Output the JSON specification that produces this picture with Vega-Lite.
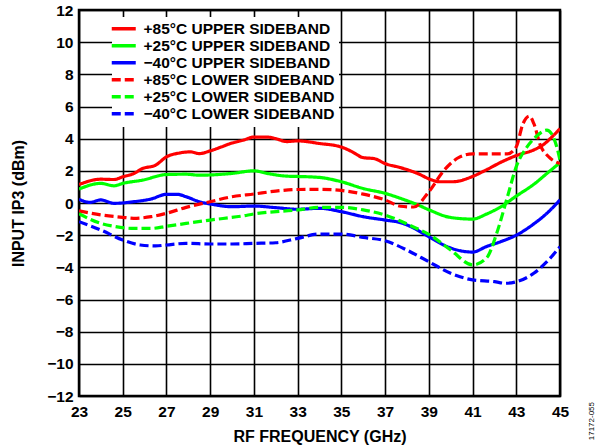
{
  "$schema": "https://vega.github.io/schema/vega-lite/v6.json",
  "width": 481,
  "height": 386,
  "autosize": "none",
  "padding": {"left": 79, "top": 10, "right": 39, "bottom": 52},
  "background": "white",
  "config": {
    "font": "Liberation Sans",
    "view": {"stroke": "black", "strokeWidth": 2.5},
    "axis": {
      "grid": true, "gridColor": "black", "gridWidth": 1.6, "gridOpacity": 1,
      "domain": false, "ticks": false,
      "labelFont": "Liberation Sans", "labelFontWeight": "bold", "labelFontSize": 15.5, "labelColor": "black",
      "titleFont": "Liberation Sans", "titleFontWeight": "bold", "titleFontSize": 16, "titleColor": "black"
    }
  },
  "title": {
    "text": "17172-055",
    "orient": "right",
    "anchor": "end",
    "frame": "group",
    "angle": -90,
    "fontSize": 8,
    "fontWeight": "normal",
    "font": "Liberation Sans",
    "color": "black",
    "offset": 11,
    "dx": -6
  },
  "data": {
    "values": [
      {"s": "+85°C UPPER SIDEBAND", "f": 23, "v": 1.15},
      {"s": "+85°C UPPER SIDEBAND", "f": 24, "v": 1.48},
      {"s": "+85°C UPPER SIDEBAND", "f": 24.6, "v": 1.46},
      {"s": "+85°C UPPER SIDEBAND", "f": 25, "v": 1.63},
      {"s": "+85°C UPPER SIDEBAND", "f": 25.5, "v": 1.83},
      {"s": "+85°C UPPER SIDEBAND", "f": 25.9, "v": 2.14},
      {"s": "+85°C UPPER SIDEBAND", "f": 26.5, "v": 2.35},
      {"s": "+85°C UPPER SIDEBAND", "f": 27, "v": 2.87},
      {"s": "+85°C UPPER SIDEBAND", "f": 27.6, "v": 3.11},
      {"s": "+85°C UPPER SIDEBAND", "f": 28.1, "v": 3.18},
      {"s": "+85°C UPPER SIDEBAND", "f": 28.5, "v": 3.07},
      {"s": "+85°C UPPER SIDEBAND", "f": 29, "v": 3.24},
      {"s": "+85°C UPPER SIDEBAND", "f": 29.5, "v": 3.48},
      {"s": "+85°C UPPER SIDEBAND", "f": 30, "v": 3.73},
      {"s": "+85°C UPPER SIDEBAND", "f": 30.5, "v": 3.9},
      {"s": "+85°C UPPER SIDEBAND", "f": 31, "v": 4.1},
      {"s": "+85°C UPPER SIDEBAND", "f": 31.6, "v": 4.1},
      {"s": "+85°C UPPER SIDEBAND", "f": 32, "v": 4.0},
      {"s": "+85°C UPPER SIDEBAND", "f": 32.5, "v": 3.82},
      {"s": "+85°C UPPER SIDEBAND", "f": 33, "v": 3.86},
      {"s": "+85°C UPPER SIDEBAND", "f": 34, "v": 3.7},
      {"s": "+85°C UPPER SIDEBAND", "f": 35, "v": 3.48},
      {"s": "+85°C UPPER SIDEBAND", "f": 35.5, "v": 3.18},
      {"s": "+85°C UPPER SIDEBAND", "f": 36, "v": 2.82},
      {"s": "+85°C UPPER SIDEBAND", "f": 36.5, "v": 2.76},
      {"s": "+85°C UPPER SIDEBAND", "f": 37, "v": 2.45},
      {"s": "+85°C UPPER SIDEBAND", "f": 37.7, "v": 2.2},
      {"s": "+85°C UPPER SIDEBAND", "f": 38.5, "v": 1.83},
      {"s": "+85°C UPPER SIDEBAND", "f": 39.1, "v": 1.45},
      {"s": "+85°C UPPER SIDEBAND", "f": 39.5, "v": 1.32},
      {"s": "+85°C UPPER SIDEBAND", "f": 40.1, "v": 1.32},
      {"s": "+85°C UPPER SIDEBAND", "f": 41, "v": 1.65},
      {"s": "+85°C UPPER SIDEBAND", "f": 41.6, "v": 2.04},
      {"s": "+85°C UPPER SIDEBAND", "f": 42.4, "v": 2.6},
      {"s": "+85°C UPPER SIDEBAND", "f": 43, "v": 2.95},
      {"s": "+85°C UPPER SIDEBAND", "f": 43.8, "v": 3.3},
      {"s": "+85°C UPPER SIDEBAND", "f": 44.2, "v": 3.59},
      {"s": "+85°C UPPER SIDEBAND", "f": 44.7, "v": 4.2},
      {"s": "+85°C UPPER SIDEBAND", "f": 45, "v": 4.62},

      {"s": "+25°C UPPER SIDEBAND", "f": 23, "v": 0.87},
      {"s": "+25°C UPPER SIDEBAND", "f": 24, "v": 1.22},
      {"s": "+25°C UPPER SIDEBAND", "f": 24.6, "v": 1.07},
      {"s": "+25°C UPPER SIDEBAND", "f": 25, "v": 1.22},
      {"s": "+25°C UPPER SIDEBAND", "f": 25.9, "v": 1.42},
      {"s": "+25°C UPPER SIDEBAND", "f": 27, "v": 1.77},
      {"s": "+25°C UPPER SIDEBAND", "f": 27.9, "v": 1.79},
      {"s": "+25°C UPPER SIDEBAND", "f": 28.5, "v": 1.73},
      {"s": "+25°C UPPER SIDEBAND", "f": 30, "v": 1.84},
      {"s": "+25°C UPPER SIDEBAND", "f": 31, "v": 2.0},
      {"s": "+25°C UPPER SIDEBAND", "f": 31.6, "v": 1.84},
      {"s": "+25°C UPPER SIDEBAND", "f": 32.5, "v": 1.67},
      {"s": "+25°C UPPER SIDEBAND", "f": 33, "v": 1.65},
      {"s": "+25°C UPPER SIDEBAND", "f": 34, "v": 1.59},
      {"s": "+25°C UPPER SIDEBAND", "f": 35, "v": 1.32},
      {"s": "+25°C UPPER SIDEBAND", "f": 36, "v": 0.9},
      {"s": "+25°C UPPER SIDEBAND", "f": 37, "v": 0.6},
      {"s": "+25°C UPPER SIDEBAND", "f": 37.7, "v": 0.29},
      {"s": "+25°C UPPER SIDEBAND", "f": 38.5, "v": -0.12},
      {"s": "+25°C UPPER SIDEBAND", "f": 39, "v": -0.42},
      {"s": "+25°C UPPER SIDEBAND", "f": 40, "v": -0.9},
      {"s": "+25°C UPPER SIDEBAND", "f": 41, "v": -1.0},
      {"s": "+25°C UPPER SIDEBAND", "f": 41.65, "v": -0.68},
      {"s": "+25°C UPPER SIDEBAND", "f": 42.3, "v": -0.23},
      {"s": "+25°C UPPER SIDEBAND", "f": 43, "v": 0.43},
      {"s": "+25°C UPPER SIDEBAND", "f": 43.8, "v": 1.16},
      {"s": "+25°C UPPER SIDEBAND", "f": 44.5, "v": 1.95},
      {"s": "+25°C UPPER SIDEBAND", "f": 45, "v": 2.5},

      {"s": "−40°C UPPER SIDEBAND", "f": 23, "v": 0.23},
      {"s": "−40°C UPPER SIDEBAND", "f": 23.5, "v": 0.04},
      {"s": "−40°C UPPER SIDEBAND", "f": 24, "v": 0.19},
      {"s": "−40°C UPPER SIDEBAND", "f": 24.6, "v": -0.02},
      {"s": "−40°C UPPER SIDEBAND", "f": 25.5, "v": 0.08},
      {"s": "−40°C UPPER SIDEBAND", "f": 26.3, "v": 0.25},
      {"s": "−40°C UPPER SIDEBAND", "f": 27, "v": 0.54},
      {"s": "−40°C UPPER SIDEBAND", "f": 27.5, "v": 0.54},
      {"s": "−40°C UPPER SIDEBAND", "f": 27.9, "v": 0.39},
      {"s": "−40°C UPPER SIDEBAND", "f": 28.5, "v": 0.08},
      {"s": "−40°C UPPER SIDEBAND", "f": 29, "v": -0.06},
      {"s": "−40°C UPPER SIDEBAND", "f": 30, "v": -0.23},
      {"s": "−40°C UPPER SIDEBAND", "f": 31, "v": -0.19},
      {"s": "−40°C UPPER SIDEBAND", "f": 32, "v": -0.29},
      {"s": "−40°C UPPER SIDEBAND", "f": 33, "v": -0.39},
      {"s": "−40°C UPPER SIDEBAND", "f": 34, "v": -0.33},
      {"s": "−40°C UPPER SIDEBAND", "f": 35, "v": -0.54},
      {"s": "−40°C UPPER SIDEBAND", "f": 36, "v": -0.85},
      {"s": "−40°C UPPER SIDEBAND", "f": 37, "v": -1.06},
      {"s": "−40°C UPPER SIDEBAND", "f": 37.7, "v": -1.22},
      {"s": "−40°C UPPER SIDEBAND", "f": 38.3, "v": -1.55},
      {"s": "−40°C UPPER SIDEBAND", "f": 39, "v": -2.1},
      {"s": "−40°C UPPER SIDEBAND", "f": 40, "v": -2.8},
      {"s": "−40°C UPPER SIDEBAND", "f": 41, "v": -3.05},
      {"s": "−40°C UPPER SIDEBAND", "f": 41.65, "v": -2.7},
      {"s": "−40°C UPPER SIDEBAND", "f": 42.3, "v": -2.4},
      {"s": "−40°C UPPER SIDEBAND", "f": 43, "v": -2.0},
      {"s": "−40°C UPPER SIDEBAND", "f": 43.8, "v": -1.3},
      {"s": "−40°C UPPER SIDEBAND", "f": 44.4, "v": -0.64},
      {"s": "−40°C UPPER SIDEBAND", "f": 45, "v": 0.19},

      {"s": "+85°C LOWER SIDEBAND", "f": 23, "v": -0.49},
      {"s": "+85°C LOWER SIDEBAND", "f": 24, "v": -0.74},
      {"s": "+85°C LOWER SIDEBAND", "f": 25, "v": -0.89},
      {"s": "+85°C LOWER SIDEBAND", "f": 25.5, "v": -0.95},
      {"s": "+85°C LOWER SIDEBAND", "f": 26.3, "v": -0.85},
      {"s": "+85°C LOWER SIDEBAND", "f": 27, "v": -0.64},
      {"s": "+85°C LOWER SIDEBAND", "f": 27.9, "v": -0.27},
      {"s": "+85°C LOWER SIDEBAND", "f": 29, "v": 0.08},
      {"s": "+85°C LOWER SIDEBAND", "f": 30, "v": 0.39},
      {"s": "+85°C LOWER SIDEBAND", "f": 31, "v": 0.56},
      {"s": "+85°C LOWER SIDEBAND", "f": 32, "v": 0.74},
      {"s": "+85°C LOWER SIDEBAND", "f": 33, "v": 0.84},
      {"s": "+85°C LOWER SIDEBAND", "f": 34, "v": 0.85},
      {"s": "+85°C LOWER SIDEBAND", "f": 35, "v": 0.78},
      {"s": "+85°C LOWER SIDEBAND", "f": 36, "v": 0.55},
      {"s": "+85°C LOWER SIDEBAND", "f": 37, "v": 0.19},
      {"s": "+85°C LOWER SIDEBAND", "f": 37.7, "v": -0.2},
      {"s": "+85°C LOWER SIDEBAND", "f": 38.3, "v": -0.25},
      {"s": "+85°C LOWER SIDEBAND", "f": 39, "v": 0.7},
      {"s": "+85°C LOWER SIDEBAND", "f": 39.7, "v": 2.04},
      {"s": "+85°C LOWER SIDEBAND", "f": 40.4, "v": 2.85},
      {"s": "+85°C LOWER SIDEBAND", "f": 41, "v": 3.05},
      {"s": "+85°C LOWER SIDEBAND", "f": 41.6, "v": 3.05},
      {"s": "+85°C LOWER SIDEBAND", "f": 42.6, "v": 3.05},
      {"s": "+85°C LOWER SIDEBAND", "f": 43, "v": 3.5},
      {"s": "+85°C LOWER SIDEBAND", "f": 43.3, "v": 4.9},
      {"s": "+85°C LOWER SIDEBAND", "f": 43.6, "v": 5.4},
      {"s": "+85°C LOWER SIDEBAND", "f": 43.8, "v": 4.95},
      {"s": "+85°C LOWER SIDEBAND", "f": 44.1, "v": 3.6},
      {"s": "+85°C LOWER SIDEBAND", "f": 44.5, "v": 2.85},
      {"s": "+85°C LOWER SIDEBAND", "f": 45, "v": 2.45},

      {"s": "+25°C LOWER SIDEBAND", "f": 23, "v": -0.67},
      {"s": "+25°C LOWER SIDEBAND", "f": 24, "v": -1.27},
      {"s": "+25°C LOWER SIDEBAND", "f": 24.6, "v": -1.45},
      {"s": "+25°C LOWER SIDEBAND", "f": 25.5, "v": -1.58},
      {"s": "+25°C LOWER SIDEBAND", "f": 26.3, "v": -1.58},
      {"s": "+25°C LOWER SIDEBAND", "f": 27, "v": -1.45},
      {"s": "+25°C LOWER SIDEBAND", "f": 27.9, "v": -1.27},
      {"s": "+25°C LOWER SIDEBAND", "f": 29, "v": -1.06},
      {"s": "+25°C LOWER SIDEBAND", "f": 30.5, "v": -0.8},
      {"s": "+25°C LOWER SIDEBAND", "f": 31, "v": -0.68},
      {"s": "+25°C LOWER SIDEBAND", "f": 33, "v": -0.43},
      {"s": "+25°C LOWER SIDEBAND", "f": 34, "v": -0.27},
      {"s": "+25°C LOWER SIDEBAND", "f": 35, "v": -0.27},
      {"s": "+25°C LOWER SIDEBAND", "f": 36, "v": -0.43},
      {"s": "+25°C LOWER SIDEBAND", "f": 37, "v": -0.75},
      {"s": "+25°C LOWER SIDEBAND", "f": 37.7, "v": -1.12},
      {"s": "+25°C LOWER SIDEBAND", "f": 38.2, "v": -1.43},
      {"s": "+25°C LOWER SIDEBAND", "f": 39, "v": -1.95},
      {"s": "+25°C LOWER SIDEBAND", "f": 40, "v": -2.92},
      {"s": "+25°C LOWER SIDEBAND", "f": 41, "v": -3.85},
      {"s": "+25°C LOWER SIDEBAND", "f": 41.65, "v": -3.4},
      {"s": "+25°C LOWER SIDEBAND", "f": 42.1, "v": -1.9},
      {"s": "+25°C LOWER SIDEBAND", "f": 42.6, "v": 0.4},
      {"s": "+25°C LOWER SIDEBAND", "f": 43, "v": 2.26},
      {"s": "+25°C LOWER SIDEBAND", "f": 43.5, "v": 3.5},
      {"s": "+25°C LOWER SIDEBAND", "f": 43.9, "v": 4.12},
      {"s": "+25°C LOWER SIDEBAND", "f": 44.4, "v": 4.53},
      {"s": "+25°C LOWER SIDEBAND", "f": 44.6, "v": 4.33},
      {"s": "+25°C LOWER SIDEBAND", "f": 44.85, "v": 3.5},
      {"s": "+25°C LOWER SIDEBAND", "f": 45, "v": 2.67},

      {"s": "−40°C LOWER SIDEBAND", "f": 23, "v": -1.16},
      {"s": "−40°C LOWER SIDEBAND", "f": 24, "v": -1.68},
      {"s": "−40°C LOWER SIDEBAND", "f": 25, "v": -2.3},
      {"s": "−40°C LOWER SIDEBAND", "f": 25.8, "v": -2.61},
      {"s": "−40°C LOWER SIDEBAND", "f": 26.5, "v": -2.67},
      {"s": "−40°C LOWER SIDEBAND", "f": 27, "v": -2.61},
      {"s": "−40°C LOWER SIDEBAND", "f": 27.9, "v": -2.51},
      {"s": "−40°C LOWER SIDEBAND", "f": 29, "v": -2.55},
      {"s": "−40°C LOWER SIDEBAND", "f": 30, "v": -2.55},
      {"s": "−40°C LOWER SIDEBAND", "f": 31, "v": -2.51},
      {"s": "−40°C LOWER SIDEBAND", "f": 32, "v": -2.47},
      {"s": "−40°C LOWER SIDEBAND", "f": 33, "v": -2.2},
      {"s": "−40°C LOWER SIDEBAND", "f": 34, "v": -1.93},
      {"s": "−40°C LOWER SIDEBAND", "f": 35, "v": -1.93},
      {"s": "−40°C LOWER SIDEBAND", "f": 36, "v": -2.14},
      {"s": "−40°C LOWER SIDEBAND", "f": 37, "v": -2.35},
      {"s": "−40°C LOWER SIDEBAND", "f": 38, "v": -2.93},
      {"s": "−40°C LOWER SIDEBAND", "f": 39, "v": -3.65},
      {"s": "−40°C LOWER SIDEBAND", "f": 40, "v": -4.37},
      {"s": "−40°C LOWER SIDEBAND", "f": 41, "v": -4.78},
      {"s": "−40°C LOWER SIDEBAND", "f": 42, "v": -4.89},
      {"s": "−40°C LOWER SIDEBAND", "f": 42.5, "v": -4.99},
      {"s": "−40°C LOWER SIDEBAND", "f": 43, "v": -4.9},
      {"s": "−40°C LOWER SIDEBAND", "f": 43.8, "v": -4.37},
      {"s": "−40°C LOWER SIDEBAND", "f": 44.4, "v": -3.65},
      {"s": "−40°C LOWER SIDEBAND", "f": 45, "v": -2.72}
    ]
  },
  "mark": {"type": "line", "strokeWidth": 3.2, "interpolate": "monotone", "clip": true},
  "encoding": {
    "x": {
      "field": "f", "type": "quantitative",
      "scale": {"domain": [23, 45], "nice": false, "zero": false},
      "axis": {"values": [23,25,27,29,31,33,35,37,39,41,43,45], "title": "RF FREQUENCY (GHz)", "labelPadding": 8, "titlePadding": 9, "labelFlush": false}
    },
    "y": {
      "field": "v", "type": "quantitative",
      "scale": {"domain": [-12, 12], "nice": false, "zero": false},
      "axis": {"values": [-12,-10,-8,-6,-4,-2,0,2,4,6,8,10,12], "title": "INPUT IP3 (dBm)", "labelPadding": 6, "titlePadding": 20, "labelFlush": false}
    },
    "color": {
      "field": "s", "type": "nominal",
      "scale": {
        "domain": ["+85°C UPPER SIDEBAND", "+25°C UPPER SIDEBAND", "−40°C UPPER SIDEBAND", "+85°C LOWER SIDEBAND", "+25°C LOWER SIDEBAND", "−40°C LOWER SIDEBAND"],
        "range": ["#FF0000", "#00FF00", "#0000FF", "#FF0000", "#00FF00", "#0000FF"]
      },
      "legend": {
        "title": null, "orient": "none", "legendX": 33, "legendY": 7,
        "fillColor": "white", "padding": 4, "rowPadding": 0,
        "symbolType": "M-3,0H3", "symbolSize": 64, "symbolStrokeWidth": 3.5,
        "labelFont": "Liberation Sans", "labelFontWeight": "bold", "labelFontSize": 15.5, "labelColor": "black",
        "labelLimit": 300, "labelOffset": 12
      }
    },
    "strokeDash": {
      "field": "s", "type": "nominal",
      "scale": {
        "domain": ["+85°C UPPER SIDEBAND", "+25°C UPPER SIDEBAND", "−40°C UPPER SIDEBAND", "+85°C LOWER SIDEBAND", "+25°C LOWER SIDEBAND", "−40°C LOWER SIDEBAND"],
        "range": [[1, 0], [1, 0], [1, 0], [9, 4], [9, 4], [9, 4]]
      }
    }
  }
}
